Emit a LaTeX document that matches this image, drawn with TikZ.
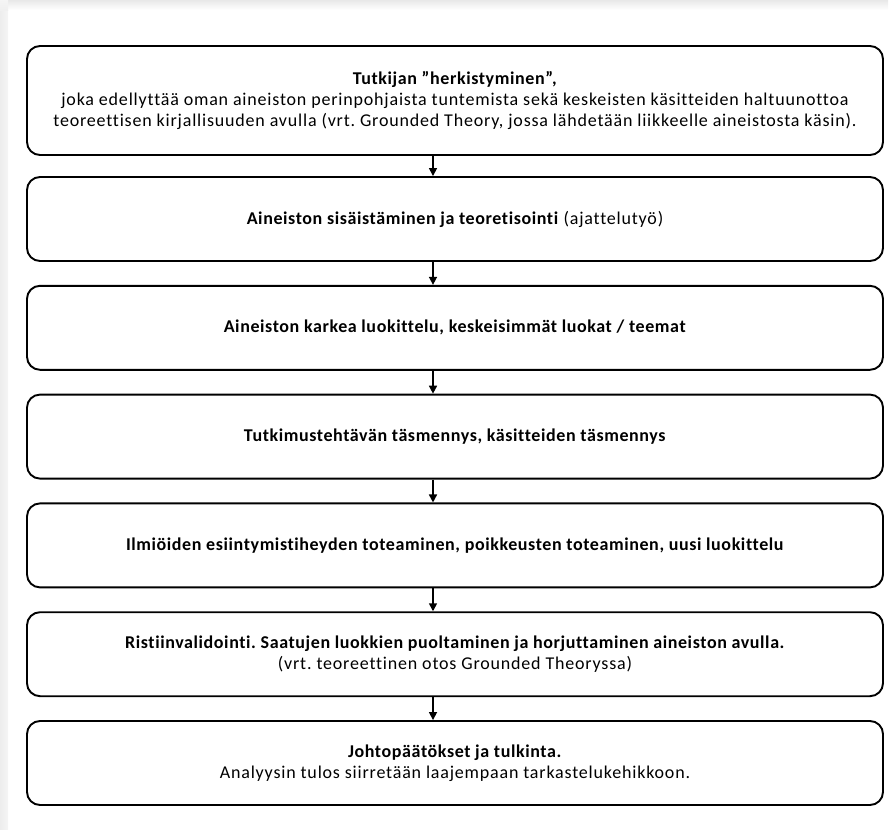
\documentclass[tikz,border=0pt]{standalone}
\usepackage{fontspec}
\setmainfont{Carlito}[Ligatures=NoCommon, LetterSpace=4.5,
  BoldFeatures={LetterSpace=3.3}]
\usetikzlibrary{arrows.meta}
\frenchspacing
\begin{document}
\begin{tikzpicture}[x=1pt,y=-1pt,
  stepbox/.style={draw=black, line width=1.9pt, rounded corners=13pt,
    minimum width=856pt, minimum height=84pt, align=center, inner sep=0pt,
    font=\fontsize{18}{21}\selectfont},
  flowarrow/.style={draw=black, line width=1.6pt,
    -{Triangle[length=8pt,width=8pt]}},
  edgeshade/.style={draw=none}]
  \useasboundingbox (0,0) rectangle (892,830);
  % faint panel shadow along the top and left edges
  \shade[edgeshade, top color=black!9, bottom color=white] (8,0) rectangle (888,10);
  \shade[edgeshade, left color=black!7, right color=black!4] (0,10) rectangle (8,830);
  \shade[edgeshade, top color=black!4, bottom color=black!6] (0,0) rectangle (8,10);

  % process steps
  \node[stepbox, minimum height=109pt] (s1) at (455,100.5)
    {\textbf{Tutkijan ”herkistyminen”,}\\
     joka edellyttää oman aineiston perinpohjaista tuntemista sekä keskeisten käsitteiden haltuunottoa\\
     teoreettisen kirjallisuuden avulla (vrt. Grounded Theory, jossa lähdetään liikkeelle aineistosta käsin).};
  \node[stepbox] (s2) at (455,219)
    {\textbf{Aineiston sisäistäminen ja teoretisointi} (ajattelutyö)};
  \node[stepbox] (s3) at (455,327.8)
    {\textbf{Aineiston karkea luokittelu, keskeisimmät luokat / teemat}};
  \node[stepbox] (s4) at (455,436.6)
    {\textbf{Tutkimustehtävän täsmennys, käsitteiden täsmennys}};
  \node[stepbox] (s5) at (455,545.4)
    {\textbf{Ilmiöiden esiintymistiheyden toteaminen, poikkeusten toteaminen, uusi luokittelu}};
  \node[stepbox] (s6) at (455,654.2)
    {\textbf{Ristiinvalidointi. Saatujen luokkien puoltaminen ja horjuttaminen aineiston avulla.}\\
     (vrt. teoreettinen otos Grounded Theoryssa)};
  \node[stepbox] (s7) at (455,763)
    {\textbf{Johtopäätökset ja tulkinta.}\\
     Analyysin tulos siirretään laajempaan tarkastelukehikkoon.};

  % connectors, set slightly left of the box centres
  \foreach \a/\b in {s1/s2,s2/s3,s3/s4,s4/s5,s5/s6,s6/s7}
    \draw[flowarrow] ([xshift=-22pt]\a.south) -- ([xshift=-22pt]\b.north);
\end{tikzpicture}
\end{document}
